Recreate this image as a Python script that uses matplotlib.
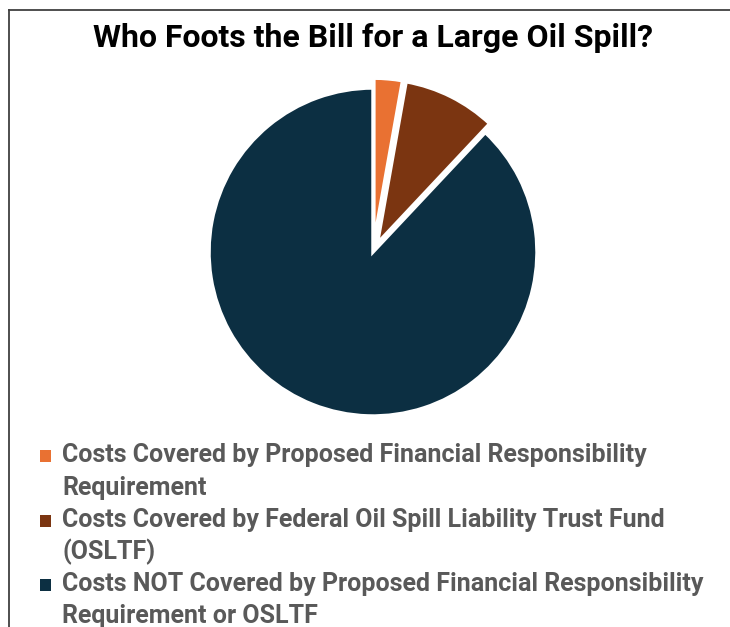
import matplotlib
matplotlib.use("Agg")
import matplotlib.pyplot as plt
from matplotlib.lines import Line2D
from matplotlib.patches import Rectangle

title = "Who Foots the Bill for a Large Oil Spill?"
categories = [
    "Costs Covered by Proposed Financial Responsibility\nRequirement",
    "Costs Covered by Federal Oil Spill Liability Trust Fund\n(OSLTF)",
    "Costs NOT Covered by Proposed Financial Responsibility\nRequirement or OSLTF",
]
values = [2.8, 9.2, 88.0]
colors = ["#E97132", "#7B3511", "#0C2F42"]
explode = [0.06, 0.06, 0.0]

FONT = ["Roboto", "DejaVu Sans"]

W, H = 730, 627
fig = plt.figure(figsize=(W / 100, H / 100), dpi=100)

cx, cy, r = 373, 252, 164
ax = fig.add_axes([(cx - r) / W, (H - cy - r) / H, 2 * r / W, 2 * r / H])
wedges, _ = ax.pie(values, colors=colors, startangle=90, counterclock=False,
                   explode=explode,
                   wedgeprops=dict(edgecolor="white", linewidth=2.5))
ax.set_xlim(-1, 1)
ax.set_ylim(-1, 1)
ax.set_aspect("equal")
ax.axis("off")

fig.text(373 / W, 1 - 38 / H, title, ha="center", va="center",
         fontsize=23, fontweight="bold", color="black", family=FONT)

# legend (manual, wrapped labels with square markers at first line)
line_baselines = [462, 495, 527, 559, 591, 623]
li = 0
for lab, col in zip(categories, colors):
    lines = lab.split("\n")
    b0 = line_baselines[li]
    fig.add_artist(Rectangle((40 / W, 1 - (b0 - 0.5) / H), 11 / W, 11.5 / H,
                             transform=fig.transFigure, facecolor=col,
                             edgecolor="none"))
    for ln in lines:
        fig.text(62 / W, 1 - line_baselines[li] / H, ln, ha="left",
                 va="baseline", fontsize=18.0, fontweight="bold",
                 color="#595959", family=FONT)
        li += 1

fig.add_artist(Line2D([9 / W, 1], [1 - 10 / H, 1 - 10 / H], transform=fig.transFigure,
                      color="#404040", linewidth=1.3))
fig.add_artist(Line2D([9 / W, 9 / W], [0, 1 - 10 / H], transform=fig.transFigure,
                      color="#404040", linewidth=1.3))

fig.savefig("out.png", dpi=100, facecolor="white")
